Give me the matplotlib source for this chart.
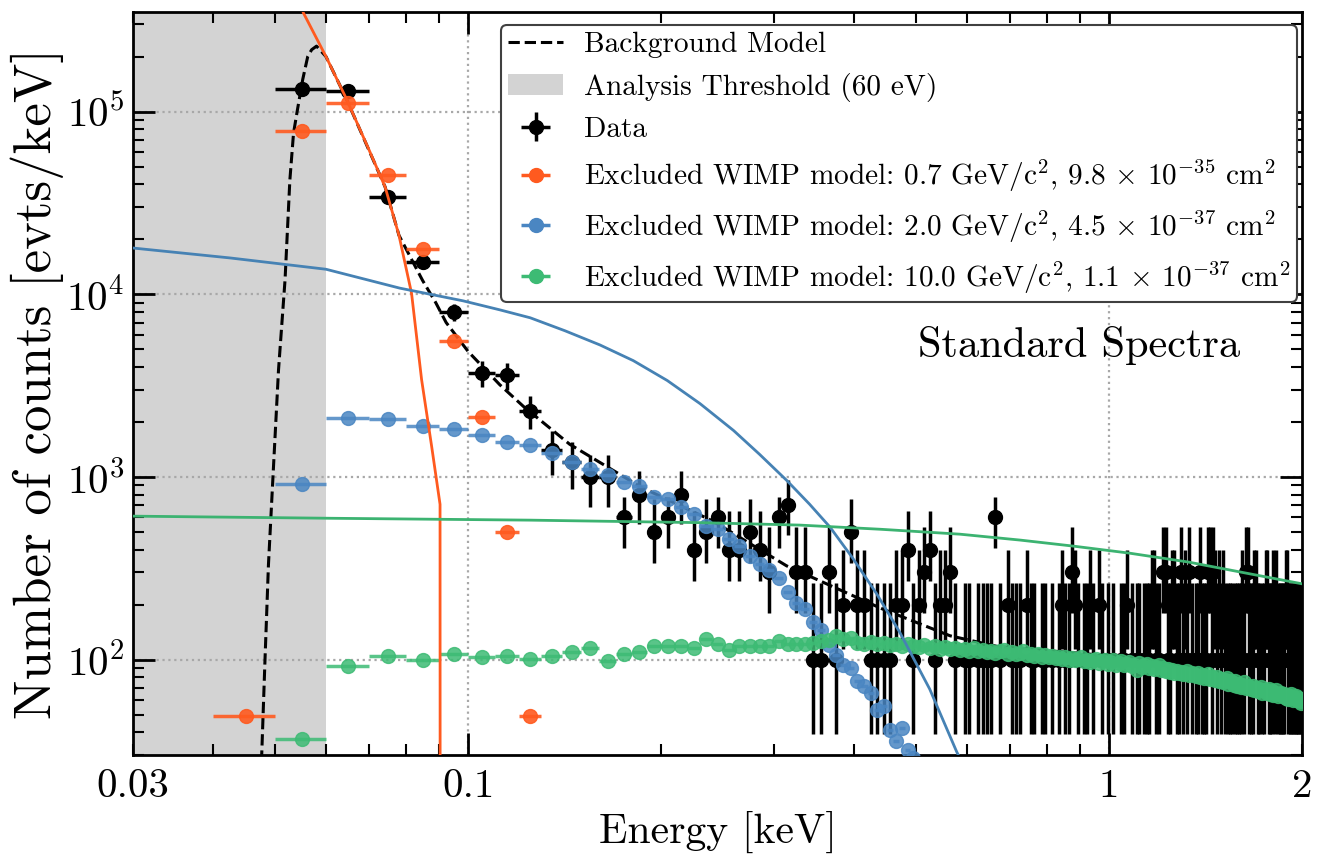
import numpy as np
import matplotlib
matplotlib.use("Agg")
import matplotlib.pyplot as plt
from matplotlib.ticker import FuncFormatter, NullFormatter, FixedLocator, LogLocator
from matplotlib.patches import Patch
from matplotlib.lines import Line2D

plt.rcParams['font.family'] = 'serif'
plt.rcParams['font.serif'] = ['cmr10']
plt.rcParams['mathtext.fontset'] = 'cm'
plt.rcParams['axes.formatter.use_mathtext'] = True

# 10 eV bins, centres from 55 eV to 1995 eV
bin_centres = np.round(np.arange(0.055, 2.0, 0.01), 3)
half_bin = 0.005

# measured spectrum [evts/keV], 0 = empty bin
data_low = [132000, 129000, 34000, 15000, 8000, 3700, 3600, 2300, 1400, 1200,
            1000, 1000, 600, 800, 500, 600, 800, 400, 500, 600,
            400, 400, 500, 400, 300, 600, 700, 300, 300]
data_high = [100, 100, 300, 100, 200, 500, 200, 200, 100, 100,
             100, 100, 200, 200, 400, 100, 200, 300, 400, 100,
             200, 200, 300, 100, 0, 100, 100, 0, 100, 100,
             100, 100, 600, 100, 0, 200, 100, 100, 100, 0,
             200, 100, 100, 0, 100, 100, 0, 100, 0, 100,
             200, 100, 100, 300, 200, 100, 0, 100, 100, 200,
             100, 0, 200, 100, 0, 100, 0, 100, 0, 0,
             100, 100, 200, 0, 100, 0, 100, 100, 0, 100,
             100, 100, 200, 200, 100, 100, 0, 300, 300, 100,
             100, 200, 200, 100, 100, 300, 100, 200, 100, 300,
             100, 0, 100, 100, 300, 100, 100, 100, 300, 300,
             100, 300, 200, 100, 200, 100, 200, 100, 0, 100,
             100, 100, 0, 100, 100, 100, 100, 200, 100, 300,
             300, 100, 100, 100, 200, 200, 100, 100, 0, 100,
             100, 200, 200, 100, 100, 100, 200, 100, 200, 100,
             100, 100, 100, 100, 200, 200, 100, 100, 100, 100,
             100, 100, 100, 100, 100, 100]
data_counts = np.array(data_low + data_high, dtype=float)

# interval (in units of one count = 100 evts/keV) for small counts
count_lo = {1: 0.39, 2: 1.15, 3: 1.8, 4: 2.7, 5: 3.4, 6: 4.1, 7: 4.8, 8: 5.5}
count_hi = {1: 2.63, 2: 4.0, 3: 5.3, 4: 6.5, 5: 7.6, 6: 7.8, 7: 9.6, 8: 10.8}

# WIMP models, binned
orange_e = [0.045, 0.055, 0.065, 0.075, 0.085, 0.095, 0.105, 0.115, 0.125]
orange_counts = [49, 78000, 112000, 45000, 17700, 5570, 2140, 500, 49]

blue_counts = [912, 2090, 2070, 1890, 1820, 1690, 1545, 1490, 1360, 1200,
               1100, 1030, 935, 890, 775, 755, 683, 625, 538, 518,
               457, 418, 370, 335, 310, 280, 235, 205, 190, 160,
               145, 120, 106, 94, 90, 76, 72, 66, 53, 56,
               41, 36, 42, 32, 29]

green_counts = [37, 92, 105, 99, 108, 104, 105, 101, 105, 110,
                116, 98, 108, 110, 118, 119, 119, 116, 130, 122,
                113, 119, 119, 118, 119, 127, 122, 121, 122, 124,
                126, 128, 134, 129, 132, 124, 122, 125, 121, 123,
                120, 122, 118, 121, 119, 117, 120, 116, 118, 115,
                117, 114, 116, 113, 115, 112, 116, 111, 113, 110,
                112, 109, 111, 113, 108, 110, 107, 109, 111, 106,
                108, 105, 107, 104, 106, 103, 105, 102, 104, 101,
                103, 100, 102, 99, 101, 104, 98, 100, 97, 99,
                101, 96, 98, 100, 95, 97, 99, 94, 96, 98,
                93, 95, 97, 92, 94, 88, 96, 91, 93, 95,
                90, 92, 89, 91, 93, 88, 90, 87, 89, 86,
                88, 85, 87, 84, 86, 83, 85, 87, 82, 84,
                83, 81, 84, 80, 82, 79, 81, 83, 78, 80,
                79, 77, 80, 76, 78, 75, 77, 79, 74, 76,
                75, 73, 76, 72, 74, 71, 73, 75, 70, 72,
                71, 69, 72, 68, 70, 67, 69, 71, 66, 68,
                68, 66, 69, 65, 67, 64, 66, 68, 63, 65,
                66, 63, 65, 62, 64, 61, 63, 65, 60, 62,
                63, 60, 62, 59, 58]

# model curves
bkg_e = [0.0470, 0.0476, 0.0482, 0.0488, 0.0496, 0.0506, 0.0518, 0.0527, 0.0534,
         0.0541, 0.0552, 0.0562, 0.0570, 0.0580, 0.0600, 0.0644, 0.0742, 0.0780,
         0.0849, 0.0890, 0.0924, 0.100, 0.112, 0.122, 0.144, 0.186, 0.241, 0.314,
         0.442, 0.565, 0.67, 1.0, 1.5, 2.0]
bkg_rate = [15, 28, 100, 330, 1000, 3860, 12000, 42000, 76000,
            100000, 150000, 200000, 218000, 228000, 200000, 119700, 38700, 21000,
            11900, 9000, 7000, 4860, 3200, 2430, 1510, 880, 573, 326,
            190, 135, 118, 105, 98, 95]

orange_line_e = [0.0540, 0.0553, 0.0600, 0.0644, 0.0700, 0.0742, 0.0780, 0.0816,
                 0.0846, 0.0877, 0.0904, 0.0905]
orange_line_rate = [500000, 348000, 200000, 119700, 62000, 38700, 21000, 10130,
                    3410, 1475, 708, 0.001]

blue_line_e = [0.03, 0.0425, 0.06, 0.0782, 0.0982, 0.1121, 0.125, 0.1416, 0.1605,
               0.181, 0.2045, 0.230, 0.2595, 0.285, 0.314, 0.341, 0.367, 0.398,
               0.434, 0.471, 0.525, 0.578, 0.60]
blue_line_rate = [17900, 15800, 13700, 10800, 9200, 8210, 7430, 6310, 5280,
                  4330, 3370, 2520, 1795, 1328, 958, 709, 531, 360,
                  229, 142, 69, 31.5, 24]

green_line_e = [0.03, 0.0607, 0.125, 0.230, 0.329, 0.44, 0.585, 0.727, 0.88,
                1.074, 1.33, 1.6, 2.0]
green_line_rate = [610, 594, 580, 562, 545, 517, 486, 451, 418,
                   383, 342, 302, 260]

c_orange = '#FF5A1F'
c_blue = '#4A86C2'
c_green = '#3DBB74'
c_blue_line = '#4682B4'
c_green_line = '#3CB371'

fig, ax = plt.subplots(figsize=(13.17, 8.66), dpi=100)
fig.subplots_adjust(left=0.101, right=0.9886, top=0.986, bottom=0.128)

ax.axvspan(0.03, 0.06, color='#d3d3d3', lw=0, zorder=1)

# data with poisson-style bars
mask = data_counts > 0
e_d = bin_centres[mask]
y_d = data_counts[mask]
lo, hi = [], []
for v in y_d:
    n = int(round(v / 100))
    if n in count_lo:
        lo.append(v - count_lo[n] * 100)
        hi.append(count_hi[n] * 100 - v)
    else:
        lo.append(10 * np.sqrt(v))
        hi.append(10 * np.sqrt(v))
ax.errorbar(e_d, y_d, xerr=half_bin, yerr=[lo, hi], fmt='o', color='black',
            ms=10, elinewidth=2.5, capsize=0, zorder=3)

ax.plot(bkg_e, bkg_rate, color='black', ls='--', lw=2.2, zorder=3.5)

ax.errorbar(orange_e, orange_counts, xerr=half_bin, fmt='o', color=c_orange,
            ms=10, elinewidth=2.5, capsize=0, alpha=0.9, zorder=4)
ax.errorbar(bin_centres[:len(blue_counts)], blue_counts, xerr=half_bin, fmt='o',
            color=c_blue, ms=10, elinewidth=2.5, capsize=0, alpha=0.85, zorder=4)
ax.errorbar(bin_centres[:len(green_counts)], green_counts, xerr=half_bin, fmt='o',
            color=c_green, ms=10, elinewidth=2.5, capsize=0, alpha=0.85, zorder=4)

ax.plot(orange_line_e, orange_line_rate, color=c_orange, lw=2, zorder=5)
ax.plot(blue_line_e, blue_line_rate, color=c_blue_line, lw=2, zorder=5)
ax.plot(green_line_e, green_line_rate, color=c_green_line, lw=2, zorder=5)

ax.set_xscale('log')
ax.set_yscale('log')
ax.set_xlim(0.03, 2)
ax.set_ylim(30, 3.5e5)

ax.xaxis.set_major_locator(FixedLocator([0.1, 1]))
ax.xaxis.set_major_formatter(FuncFormatter(lambda v, p: '%g' % v))
ax.xaxis.set_minor_locator(LogLocator(base=10, subs=np.arange(2, 10)))
ax.xaxis.set_minor_formatter(FuncFormatter(
    lambda v, p: ('%g' % v) if (abs(v - 0.03) < 1e-6 or abs(v - 2) < 1e-6) else ''))
ax.yaxis.set_minor_formatter(NullFormatter())

ax.tick_params(which='both', direction='in', top=True, right=True, labelsize=29.5)
ax.tick_params(which='major', length=16, width=2)
ax.tick_params(which='minor', length=8, width=1.5)
ax.tick_params(axis='x', which='both', pad=10)
ax.tick_params(axis='y', which='both', pad=6)
for s in ax.spines.values():
    s.set_linewidth(2)

ax.grid(True, which='major', ls=':', color='#a8a8a8', lw=1.6)

ax.set_xlabel('Energy [keV]', fontsize=30, labelpad=4)
ax.set_ylabel('Number of counts [evts/keV]', fontsize=38, labelpad=2)

ax.text(0.947, 0.552, 'Standard Spectra', transform=ax.transAxes,
        ha='right', va='center', fontsize=30.5)

h_bkg = Line2D([], [], color='black', ls='--', lw=2.2)
h_thr = Patch(facecolor='#d3d3d3', edgecolor='none')
h_dat = ax.errorbar([], [], xerr=[], yerr=[], fmt='o', color='black', ms=10,
                    elinewidth=2.5, capsize=0)
h_or = ax.errorbar([], [], xerr=[], fmt='o', color=c_orange, ms=10, elinewidth=2.5, capsize=0)
h_bl = ax.errorbar([], [], xerr=[], fmt='o', color=c_blue, ms=10, elinewidth=2.5, capsize=0)
h_gr = ax.errorbar([], [], xerr=[], fmt='o', color=c_green, ms=10, elinewidth=2.5, capsize=0)

labels = ['Background Model', 'Analysis Threshold (60 eV)', 'Data',
          r'Excluded WIMP model: 0.7 GeV/c$^2$, 9.8 $\times$ 10$^{-35}$ cm$^2$',
          r'Excluded WIMP model: 2.0 GeV/c$^2$, 4.5 $\times$ 10$^{-37}$ cm$^2$',
          r'Excluded WIMP model: 10.0 GeV/c$^2$, 1.1 $\times$ 10$^{-37}$ cm$^2$']
leg = ax.legend([h_bkg, h_thr, h_dat, h_or, h_bl, h_gr], labels, loc='upper right',
                bbox_to_anchor=(0.9957, 0.9825), borderaxespad=0, fontsize=21.1,
                frameon=True, fancybox=True, framealpha=1, handlelength=1.9,
                handletextpad=0.7, labelspacing=0.5, borderpad=0.22)
leg.get_frame().set_edgecolor('#404040')
leg.get_frame().set_linewidth(1.5)
leg.set_zorder(10)

fig.savefig('out.png', dpi=100)
